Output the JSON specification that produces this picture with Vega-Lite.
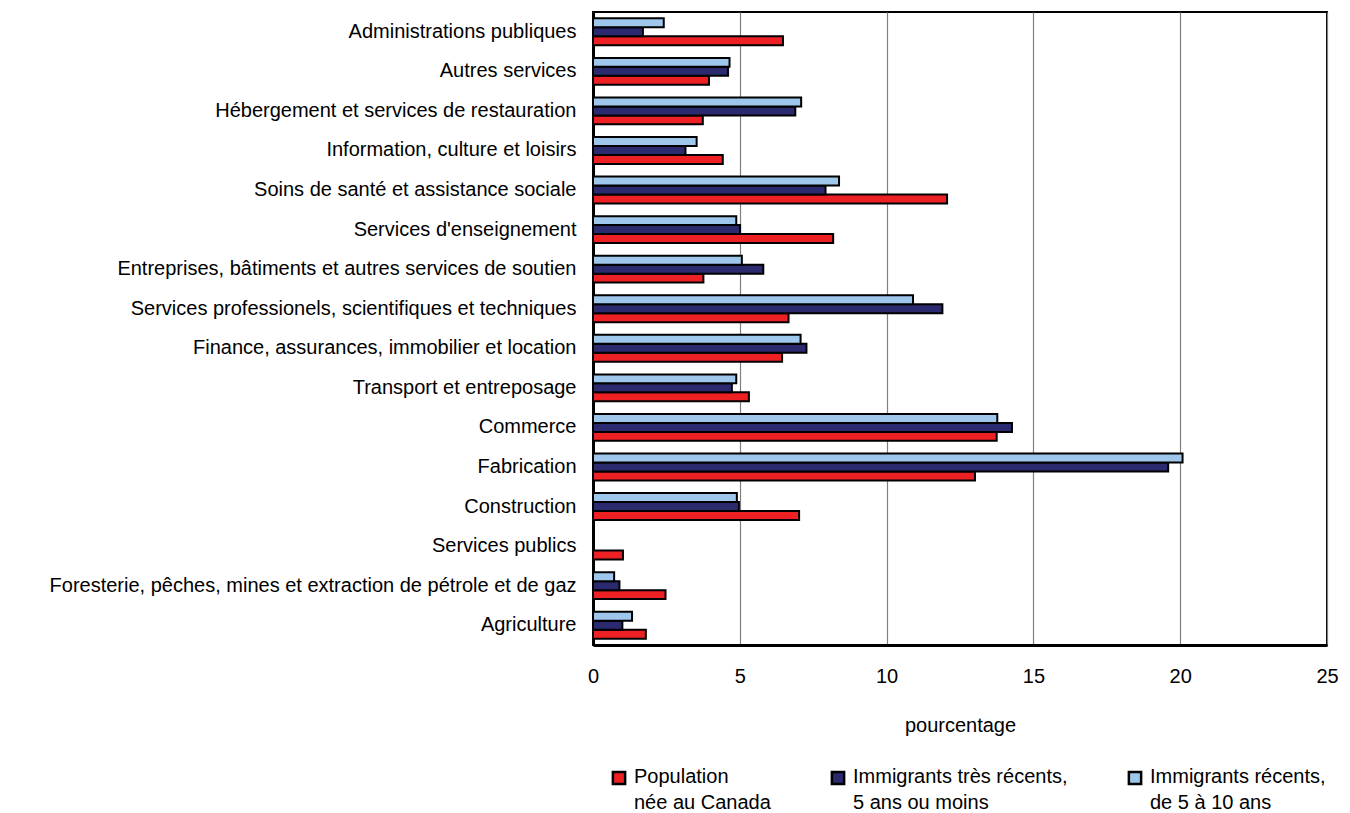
{
  "$schema": "https://vega.github.io/schema/vega-lite/v6.json",
  "width": 734,
  "height": 633,
  "autosize": "none",
  "padding": {"left": 593, "top": 12, "right": 23, "bottom": 168},
  "background": "white",
  "config": {
    "font": "Liberation Sans",
    "view": {"stroke": "black", "strokeWidth": 2},
    "axis": {"labelColor": "black", "titleColor": "black"}
  },
  "data": {
    "values": [
      {"secteur": "Administrations publiques", "serie": "Population|née au Canada", "valeur": 6.47},
      {"secteur": "Administrations publiques", "serie": "Immigrants très récents,|5 ans ou moins", "valeur": 1.70},
      {"secteur": "Administrations publiques", "serie": "Immigrants récents,|de 5 à 10 ans", "valeur": 2.41},
      {"secteur": "Autres services", "serie": "Population|née au Canada", "valeur": 3.95},
      {"secteur": "Autres services", "serie": "Immigrants très récents,|5 ans ou moins", "valeur": 4.60},
      {"secteur": "Autres services", "serie": "Immigrants récents,|de 5 à 10 ans", "valeur": 4.65},
      {"secteur": "Hébergement et services de restauration", "serie": "Population|née au Canada", "valeur": 3.74},
      {"secteur": "Hébergement et services de restauration", "serie": "Immigrants très récents,|5 ans ou moins", "valeur": 6.89},
      {"secteur": "Hébergement et services de restauration", "serie": "Immigrants récents,|de 5 à 10 ans", "valeur": 7.09},
      {"secteur": "Information, culture et loisirs", "serie": "Population|née au Canada", "valeur": 4.42},
      {"secteur": "Information, culture et loisirs", "serie": "Immigrants très récents,|5 ans ou moins", "valeur": 3.15},
      {"secteur": "Information, culture et loisirs", "serie": "Immigrants récents,|de 5 à 10 ans", "valeur": 3.53},
      {"secteur": "Soins de santé et assistance sociale", "serie": "Population|née au Canada", "valeur": 12.06},
      {"secteur": "Soins de santé et assistance sociale", "serie": "Immigrants très récents,|5 ans ou moins", "valeur": 7.92},
      {"secteur": "Soins de santé et assistance sociale", "serie": "Immigrants récents,|de 5 à 10 ans", "valeur": 8.38},
      {"secteur": "Services d'enseignement", "serie": "Population|née au Canada", "valeur": 8.18},
      {"secteur": "Services d'enseignement", "serie": "Immigrants très récents,|5 ans ou moins", "valeur": 5.01},
      {"secteur": "Services d'enseignement", "serie": "Immigrants récents,|de 5 à 10 ans", "valeur": 4.88},
      {"secteur": "Entreprises, bâtiments et autres services de soutien", "serie": "Population|née au Canada", "valeur": 3.76},
      {"secteur": "Entreprises, bâtiments et autres services de soutien", "serie": "Immigrants très récents,|5 ans ou moins", "valeur": 5.80},
      {"secteur": "Entreprises, bâtiments et autres services de soutien", "serie": "Immigrants récents,|de 5 à 10 ans", "valeur": 5.07},
      {"secteur": "Services professionels, scientifiques et techniques", "serie": "Population|née au Canada", "valeur": 6.66},
      {"secteur": "Services professionels, scientifiques et techniques", "serie": "Immigrants très récents,|5 ans ou moins", "valeur": 11.90},
      {"secteur": "Services professionels, scientifiques et techniques", "serie": "Immigrants récents,|de 5 à 10 ans", "valeur": 10.90},
      {"secteur": "Finance, assurances, immobilier et location", "serie": "Population|née au Canada", "valeur": 6.44},
      {"secteur": "Finance, assurances, immobilier et location", "serie": "Immigrants très récents,|5 ans ou moins", "valeur": 7.27},
      {"secteur": "Finance, assurances, immobilier et location", "serie": "Immigrants récents,|de 5 à 10 ans", "valeur": 7.07},
      {"secteur": "Transport et entreposage", "serie": "Population|née au Canada", "valeur": 5.31},
      {"secteur": "Transport et entreposage", "serie": "Immigrants très récents,|5 ans ou moins", "valeur": 4.73},
      {"secteur": "Transport et entreposage", "serie": "Immigrants récents,|de 5 à 10 ans", "valeur": 4.88},
      {"secteur": "Commerce", "serie": "Population|née au Canada", "valeur": 13.75},
      {"secteur": "Commerce", "serie": "Immigrants très récents,|5 ans ou moins", "valeur": 14.27},
      {"secteur": "Commerce", "serie": "Immigrants récents,|de 5 à 10 ans", "valeur": 13.77},
      {"secteur": "Fabrication", "serie": "Population|née au Canada", "valeur": 13.01},
      {"secteur": "Fabrication", "serie": "Immigrants très récents,|5 ans ou moins", "valeur": 19.59},
      {"secteur": "Fabrication", "serie": "Immigrants récents,|de 5 à 10 ans", "valeur": 20.08},
      {"secteur": "Construction", "serie": "Population|née au Canada", "valeur": 7.02},
      {"secteur": "Construction", "serie": "Immigrants très récents,|5 ans ou moins", "valeur": 4.97},
      {"secteur": "Construction", "serie": "Immigrants récents,|de 5 à 10 ans", "valeur": 4.90},
      {"secteur": "Services publics", "serie": "Population|née au Canada", "valeur": 1.02},
      {"secteur": "Foresterie, pêches, mines et extraction de pétrole et de gaz", "serie": "Population|née au Canada", "valeur": 2.47},
      {"secteur": "Foresterie, pêches, mines et extraction de pétrole et de gaz", "serie": "Immigrants très récents,|5 ans ou moins", "valeur": 0.90},
      {"secteur": "Foresterie, pêches, mines et extraction de pétrole et de gaz", "serie": "Immigrants récents,|de 5 à 10 ans", "valeur": 0.72},
      {"secteur": "Agriculture", "serie": "Population|née au Canada", "valeur": 1.80},
      {"secteur": "Agriculture", "serie": "Immigrants très récents,|5 ans ou moins", "valeur": 1.00},
      {"secteur": "Agriculture", "serie": "Immigrants récents,|de 5 à 10 ans", "valeur": 1.33}
    ]
  },
  "mark": {"type": "bar", "stroke": "black", "strokeWidth": 2},
  "encoding": {
    "y": {
      "field": "secteur",
      "type": "nominal",
      "sort": [
        "Administrations publiques",
        "Autres services",
        "Hébergement et services de restauration",
        "Information, culture et loisirs",
        "Soins de santé et assistance sociale",
        "Services d'enseignement",
        "Entreprises, bâtiments et autres services de soutien",
        "Services professionels, scientifiques et techniques",
        "Finance, assurances, immobilier et location",
        "Transport et entreposage",
        "Commerce",
        "Fabrication",
        "Construction",
        "Services publics",
        "Foresterie, pêches, mines et extraction de pétrole et de gaz",
        "Agriculture"
      ],
      "scale": {"paddingInner": 0.32, "paddingOuter": 0.16},
      "axis": {
        "title": null,
        "ticks": false,
        "labelFontSize": 20,
        "labelPadding": 17,
        "labelLimit": 700,
        "domainColor": "black",
        "domainWidth": 3
      }
    },
    "yOffset": {
      "field": "serie",
      "type": "nominal",
      "sort": [
        "Immigrants récents,|de 5 à 10 ans",
        "Immigrants très récents,|5 ans ou moins",
        "Population|née au Canada"
      ],
      "scale": {"paddingInner": 0, "paddingOuter": 0}
    },
    "x": {
      "field": "valeur",
      "type": "quantitative",
      "scale": {"domain": [0, 25], "nice": false},
      "axis": {
        "title": "pourcentage",
        "values": [0, 5, 10, 15, 20, 25],
        "ticks": false,
        "labelFlush": false,
        "labelFontSize": 20,
        "labelPadding": 21,
        "titleFontSize": 20,
        "titleFontWeight": "normal",
        "titlePadding": 29,
        "domainColor": "black",
        "domainWidth": 3,
        "grid": true,
        "gridColor": "#808080",
        "gridWidth": 1.2
      }
    },
    "color": {
      "field": "serie",
      "type": "nominal",
      "scale": {
        "domain": [
          "Population|née au Canada",
          "Immigrants très récents,|5 ans ou moins",
          "Immigrants récents,|de 5 à 10 ans"
        ],
        "range": ["#ed2024", "#2b2a6e", "#9fc6eb"]
      },
      "legend": {
        "title": null,
        "orient": "none",
        "legendX": 16,
        "legendY": 756,
        "direction": "horizontal",
        "symbolType": "square",
        "symbolSize": 150,
        "symbolStrokeColor": "black",
        "symbolStrokeWidth": 2,
        "symbolOpacity": 1,
        "labelFontSize": 20,
        "labelLimit": 500,
        "labelOffset": 5,
        "labelBaseline": "top",
        "columnPadding": 55,
        "labelExpr": "split(datum.label, '|')",
        "labelColor": "black",
        "encode": {
          "labels": {"update": {"dy": {"value": -11}, "lineHeight": {"value": 26}}},
          "symbols": {"update": {"strokeWidth": {"value": 2.5}}}
        }
      }
    }
  }
}
